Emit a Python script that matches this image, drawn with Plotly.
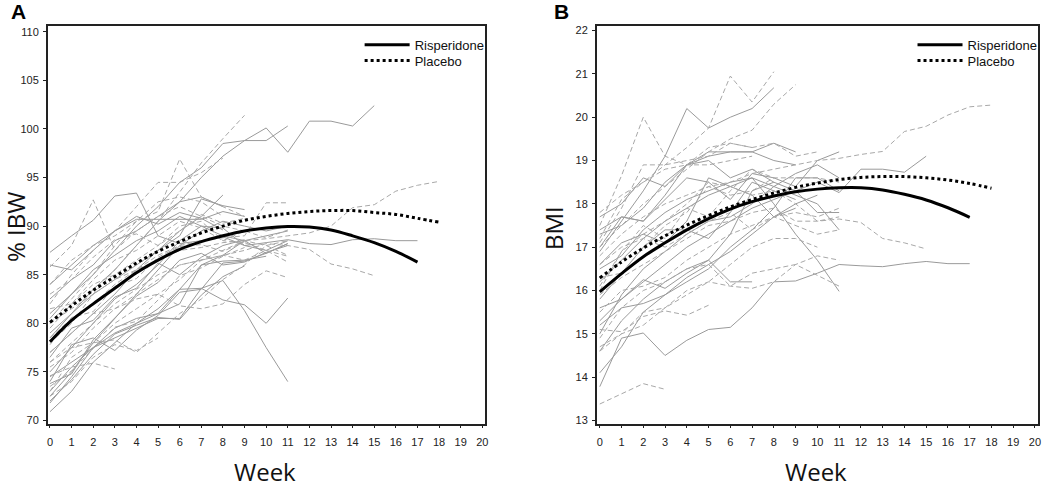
import plotly.graph_objects as go

"""
Weight trajectories per subject (thin gray lines) with the fitted group
curves (thick black) - panel A is %IBW, panel B is BMI.
"""

WEEKS = list(range(21))

# fitted group curves
ibw_ris_fit = [78.1, 80.3, 82.0, 83.6, 85.2, 86.5, 87.6, 88.4, 89.0, 89.5, 89.8,
               89.95, 89.9, 89.6, 89.0, 88.3, 87.4, 86.3]
ibw_pbo_fit = [80.1, 81.8, 83.4, 84.8, 86.2, 87.4, 88.4, 89.3, 90.0, 90.6, 91.0,
               91.3, 91.5, 91.6, 91.6, 91.4, 91.2, 90.8, 90.4]
bmi_ris_fit = [15.97, 16.39, 16.78, 17.1, 17.4, 17.66, 17.88, 18.05, 18.18, 18.28,
               18.34, 18.37, 18.37, 18.32, 18.22, 18.09, 17.91, 17.69]
bmi_pbo_fit = [16.29, 16.66, 16.98, 17.26, 17.51, 17.73, 17.93, 18.1, 18.25, 18.38,
               18.48, 18.56, 18.61, 18.63, 18.63, 18.6, 18.55, 18.47, 18.36]

# individual subjects, %IBW (risperidone = solid, placebo = dashed)
ibw_ris_subjects = [
    [79.0, 81.0, 83.5, 85.5, 88.0, 90.5, 92.5, 95.0, 97.2, 98.8, 100.1, 97.6, 100.8, 100.8, 100.3, 102.4],
    [81.0, 83.0, 85.0, 87.5, 90.0, 92.0, 94.5, 96.0, 98.5, 98.8, 98.8, 100.3],
    [87.3, 89.0, 90.6, 93.1, 93.4, 89.0, 88.2, 88.5, 88.9, 88.0, 88.3, 88.6, 88.2, 88.1, 88.6, 88.7, 88.5, 88.5],
    [70.9, 73.0, 76.0, 78.0, 80.0, 81.5, 83.5, 86.0, 87.0, 88.5, 89.0, 89.5],
    [74.5, 76.0, 77.5, 79.0, 80.0, 81.0, 83.5, 83.6, 84.4, 81.3, 77.5, 74.0],
    [73.0, 75.5, 77.5, 78.5, 79.5, 80.5, 80.5, 83.6, 82.4, 81.9, 80.0, 82.6],
    [84.0, 86.0, 88.0, 89.5, 90.7, 90.7, 90.7, 90.7, 91.5, 91.0],
    [78.5, 81.0, 83.0, 84.5, 86.0, 87.5, 89.0, 92.8, 92.1, 91.7],
    [77.0, 79.0, 81.0, 83.0, 85.5, 87.5, 89.5, 91.0, 93.2],
    [72.5, 75.0, 78.0, 80.5, 83.0, 85.5, 88.0, 89.5, 90.5, 90.0, 89.5, 90.0],
    [75.0, 77.5, 80.0, 82.5, 84.0, 86.0, 88.5, 90.0, 89.0, 88.5, 87.2, 88.2],
    [80.5, 83.0, 85.5, 87.0, 88.5, 89.5, 91.0, 90.0, 89.8, 88.0, 87.5, 88.5],
    [73.8, 74.8, 78.3, 80.5, 82.8, 84.2, 86.5, 87.2, 86.0, 86.3, 87.3, 88.0],
    [82.5, 84.5, 86.0, 88.5, 89.5, 91.0, 92.5, 93.0, 92.0],
    [71.8, 74.5, 77.5, 79.5, 80.5, 81.0, 82.0, 86.0, 86.4, 86.5, 86.9],
    [76.5, 79.5, 80.3, 82.7, 83.6, 86.2, 85.0, 86.8, 88.0, 88.6],
    [86.0, 85.5, 87.5, 89.5, 91.0, 90.2, 91.4, 90.8, 89.6],
    [74.0, 77.8, 78.5, 77.2, 79.3, 80.8, 83.2, 83.5, 86.2, 86.4, 87.2, 88.2],
    [72.0, 74.2, 76.8, 78.9, 79.8, 80.6, 80.4, 82.9, 84.8, 85.9],
]
ibw_pbo_subjects = [
    [78.0, 80.0, 83.0, 85.5, 88.0, 90.5, 93.5, 96.5, 99.0, 101.4],
    [80.0, 82.5, 85.0, 88.0, 90.5, 91.5, 96.9, 93.0, 92.0, 91.0],
    [85.8, 88.0, 92.7, 87.5, 89.5, 91.0, 92.0, 91.0, 90.0, 89.5],
    [82.0, 85.0, 87.5, 89.5, 92.0, 94.5, 94.5, 95.5, 97.0],
    [80.0, 81.5, 83.0, 84.5, 85.5, 86.5, 87.5, 87.8, 88.3, 88.5, 88.7, 89.0, 89.3, 90.0, 91.9, 92.2, 93.6, 94.2, 94.6],
    [76.0, 78.0, 80.0, 82.0, 83.5, 85.0, 86.0, 86.5, 87.0, 87.5, 88.2, 88.0, 87.6, 86.1, 85.6, 84.9],
    [74.6, 75.5, 75.9, 75.3],
    [72.5, 74.0, 76.5, 77.8, 77.2, 78.5],
    [78.5, 80.5, 82.0, 84.0, 85.5, 87.0, 88.0, 88.5, 88.8, 89.0, 92.4, 92.4],
    [77.0, 79.0, 81.0, 81.5, 82.5, 83.0, 81.8, 81.5, 82.0, 84.0, 85.4, 84.7],
    [75.5, 77.0, 79.5, 81.5, 83.0, 84.5, 86.0, 86.5, 87.0, 86.5, 87.5, 86.9],
    [79.5, 82.0, 84.0, 85.0, 86.5, 88.0, 90.0, 90.5, 88.5, 88.3, 87.5, 86.3],
    [73.0, 76.5, 78.0, 80.0, 81.5, 83.0, 84.5, 86.5, 87.5, 88.5, 88.0, 88.5],
    [84.0, 86.5, 88.0, 89.0, 90.5, 92.5, 93.0, 92.5, 91.0],
    [81.5, 82.0, 84.5, 86.5, 87.5, 89.0, 90.5, 89.8, 88.5, 89.5, 88.8, 89.6],
    [76.0, 77.5, 78.0, 78.3, 77.0, 79.0, 81.0, 82.5, 84.5, 86.0, 88.0, 87.0],
    [83.0, 84.5, 86.8, 88.6, 89.2, 88.0, 89.5, 91.2, 90.3, 90.8],
    [77.8, 80.6, 81.2, 83.8, 84.6, 86.8, 87.9, 88.1, 87.4, 88.4],
    [73.5, 75.1, 77.4, 79.6, 80.2, 82.4, 84.9, 85.7, 86.9, 87.8],
]

# individual subjects, BMI
bmi_ris_subjects = [
    [16.9, 17.6, 18.3, 19.1, 20.2, 19.75, 20.0, 20.2, 20.68],
    [13.78, 14.9, 15.02, 14.5, 14.85, 15.1, 15.15, 15.6, 16.2, 16.22, 16.4, 16.6, 16.57, 16.55, 16.62, 16.67, 16.62, 16.62],
    [15.3, 15.8, 16.2, 16.6, 17.0, 17.3, 17.6, 17.9, 18.1, 18.3, 18.5, 18.26, 18.8, 18.8, 18.73, 19.1],
    [14.1, 14.7, 15.5, 15.9, 16.3, 16.6, 16.9, 17.3, 17.7, 18.0, 18.2],
    [16.5, 16.8, 17.4, 17.8, 18.1, 18.3, 18.5, 18.6, 18.0, 17.3, 16.7, 15.98],
    [17.3, 17.5, 17.9, 18.5, 18.9, 19.2, 19.2, 19.2, 19.4, 19.2],
    [17.4, 17.7, 17.6, 18.1, 18.6, 18.5, 18.1, 18.7, 18.6, 18.4, 19.0, 19.2],
    [15.6, 15.8, 16.25, 16.05, 16.4, 16.7, 16.2, 16.2],
    [15.0, 15.9, 16.5, 16.9, 17.3, 17.6, 17.7, 18.0, 18.4, 18.7, 18.9, 18.6],
    [16.2, 16.7, 17.2, 17.6, 17.9, 18.2, 18.4, 18.6, 18.4, 18.2, 18.0, 17.4],
    [14.6, 15.3, 15.8, 16.2, 16.5, 16.7, 17.3, 18.3, 18.5, 18.3, 17.8, 17.8],
    [15.2, 15.6, 15.7, 15.9, 16.2, 16.5, 17.0, 17.4, 17.9, 18.6, 18.6, 18.3],
    [17.0, 17.7, 17.6, 18.2, 18.9, 19.1, 19.2, 19.2, 19.0, 18.9],
    [16.6, 17.1, 17.3, 17.1, 17.6, 18.6, 18.4, 18.2, 17.7, 17.9],
    [15.8, 16.4, 17.0, 17.4, 17.4, 17.2, 17.8, 18.5, 18.3, 18.1],
    [17.7, 18.0, 18.6, 18.4, 18.9, 19.0, 18.6, 18.8, 18.5],
]
bmi_pbo_subjects = [
    [17.5, 18.65, 20.0, 19.1, 18.9, 18.9, 19.0, 19.1],
    [17.8, 18.2, 18.5, 18.9, 19.3, 19.75, 20.95, 20.35, 21.05],
    [17.0, 17.5, 18.0, 18.4, 18.8, 19.2, 19.5, 19.7, 20.3, 20.75],
    [16.8, 17.3, 17.7, 18.0, 18.2, 18.4, 18.5, 18.7, 18.8, 18.9, 19.0, 19.05, 19.14, 19.21, 19.67, 19.79, 20.05, 20.24, 20.28],
    [13.38, 13.62, 13.85, 13.72],
    [15.1, 15.05, 15.4, 15.53, 15.43, 15.66],
    [14.6, 15.0, 15.5, 15.6, 16.0, 16.2, 16.1, 16.05, 16.2, 16.6, 16.8, 16.7],
    [15.9, 16.3, 16.6, 16.9, 17.2, 17.5, 17.6, 17.8, 17.9, 17.6, 17.6, 17.65, 17.57, 17.2, 17.1, 16.96],
    [16.0, 16.9, 17.3, 17.6, 18.0, 18.5, 18.4, 18.2, 18.3, 18.0, 17.6, 17.7],
    [14.9, 15.6, 16.0, 16.2, 16.5, 16.6, 16.1, 16.4, 16.5, 16.6, 16.35, 16.1],
    [17.2, 18.1, 18.5, 18.8, 18.9, 19.3, 19.4, 19.3, 19.4, 19.1, 19.2],
    [16.6, 17.0, 17.2, 17.0, 17.3, 17.6, 17.8, 17.4, 17.7, 17.5, 17.3, 17.4],
    [15.5, 16.0, 16.1, 16.3, 16.7, 17.0, 17.3, 17.5, 17.7, 17.8, 17.7, 17.9],
    [16.3, 16.4, 17.0, 17.5, 17.8, 18.4, 18.2, 18.3, 18.6, 18.6, 18.6, 18.5],
    [14.7, 15.0, 15.2, 15.6, 15.9, 16.2, 16.6, 17.0, 17.2, 17.2, 17.0],
    [17.1, 17.9, 18.9, 18.9, 19.0, 19.1, 19.4, 19.3],
    [16.1, 16.9, 17.5, 17.2, 17.9, 17.7, 18.3, 18.8, 18.6],
]

SOLID_GRAY = '#9a9a9a'
DASH_GRAY = '#a8a8a8'
NARROW = 'Liberation Sans Narrow, Arial Narrow, Liberation Sans, sans-serif'
TICK_FONT = dict(family=NARROW, size=11, color='#222')
TITLE_FONT = dict(family='Open Sans, Noto Sans, sans-serif', size=24, color='#111')


def add_panel(fig, xa, ya, ris_subj, pbo_subj, ris_fit, pbo_fit, ris_legend, pbo_legend):
    for vals in ris_subj:
        fig.add_trace(go.Scatter(x=WEEKS[:len(vals)], y=vals, mode='lines',
                                 line=dict(color=SOLID_GRAY, width=1),
                                 xaxis=xa, yaxis=ya, showlegend=False, hoverinfo='skip'))
    for vals in pbo_subj:
        fig.add_trace(go.Scatter(x=WEEKS[:len(vals)], y=vals, mode='lines',
                                 line=dict(color=DASH_GRAY, width=1, dash='5px,3px'),
                                 xaxis=xa, yaxis=ya, showlegend=False, hoverinfo='skip'))
    fig.add_trace(go.Scatter(x=WEEKS[:len(ris_fit)], y=ris_fit, mode='lines', name='Risperidone',
                             line=dict(color='black', width=3, shape='spline'),
                             xaxis=xa, yaxis=ya, legend=ris_legend))
    fig.add_trace(go.Scatter(x=WEEKS[:len(pbo_fit)], y=pbo_fit, mode='lines', name='Placebo',
                             line=dict(color='black', width=3, dash='dot', shape='spline'),
                             xaxis=xa, yaxis=ya, legend=pbo_legend))


fig = go.Figure()
add_panel(fig, 'x', 'y', ibw_ris_subjects, ibw_pbo_subjects, ibw_ris_fit, ibw_pbo_fit,
          'legend', 'legend3')
add_panel(fig, 'x2', 'y2', bmi_ris_subjects, bmi_pbo_subjects, bmi_ris_fit, bmi_pbo_fit,
          'legend2', 'legend4')

axis_style = dict(showline=True, mirror=True, linecolor='#222', linewidth=1.5,
                  ticks='outside', ticklen=3, tickwidth=1, tickcolor='#222',
                  showgrid=False, zeroline=False, tickfont=TICK_FONT)


def legend_at(x, top):
    # one legend box per entry so the two rows can sit 16px apart
    return dict(x=x / 1050, y=1 - top / 488, xanchor='left', yanchor='top',
                font=dict(family=NARROW, size=13, color='#111'), itemwidth=45,
                bgcolor='rgba(0,0,0,0)')


def label(text, x, y, font, angle=0):
    return dict(text=text, x=x / 1050, y=1 - y / 488, xref='paper', yref='paper', showarrow=False,
                xanchor='center', yanchor='middle', textangle=angle, font=font)


BOLD_FONT = dict(family='Liberation Sans, Arial, sans-serif', size=21, color='black')

fig.update_layout(
    width=1050, height=488,
    margin=dict(l=0, r=0, t=0, b=0),
    plot_bgcolor='white', paper_bgcolor='white',
    xaxis=dict(domain=[47 / 1050, 486 / 1050], range=[-0.1, 20.13], dtick=1, anchor='y',
               ticklabelstandoff=5, **axis_style),
    yaxis=dict(domain=[1 - 426 / 488, 1 - 25 / 488], range=[69.69, 110.61], dtick=5, anchor='x',
               ticklabelstandoff=2, **axis_style),
    xaxis2=dict(domain=[598 / 1050, 1041 / 1050], range=[-0.14, 20.14], dtick=1, anchor='y2',
                ticklabelstandoff=5, **axis_style),
    yaxis2=dict(domain=[1 - 426 / 488, 1 - 25 / 488], range=[12.93, 22.11], dtick=1, anchor='x2',
                ticklabelstandoff=2, **axis_style),
    legend=legend_at(360, 29),
    legend3=legend_at(360, 45),
    legend2=legend_at(915, 29),
    legend4=legend_at(915, 45),
    annotations=[
        label('<b>A</b>', 18, 11, BOLD_FONT),
        label('<b>B</b>', 563, 11, BOLD_FONT),
        label('% IBW', 14, 228, TITLE_FONT, -90),
        label('BMI', 554, 229, TITLE_FONT, -90),
        label('Week', 265, 474, TITLE_FONT),
        label('Week', 818, 474, TITLE_FONT),
    ],
)

fig.write_html("out.html", config={'displayModeBar': False},
               post_script="document.body.style.margin='0';")
